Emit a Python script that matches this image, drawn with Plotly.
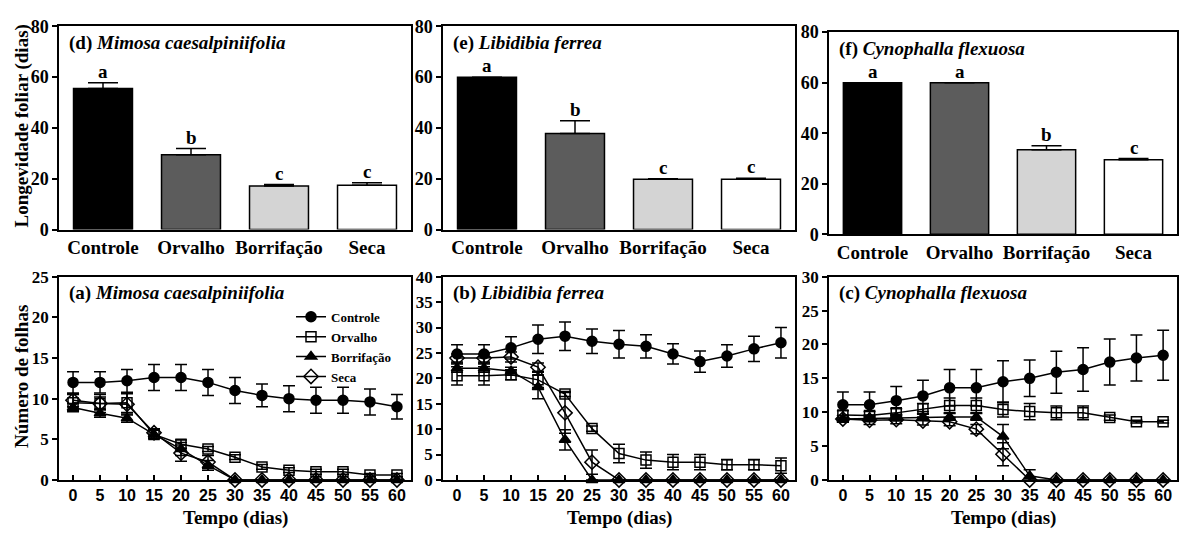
import plotly.graph_objects as go

# ---------------- data ----------------
treatments = ["Controle", "Orvalho", "Borrifação", "Seca"]
bar_colors = ["#000000", "#5c5c5c", "#d4d4d4", "#ffffff"]

mimosa_long = [55.5, 29.5, 17.1, 17.4]
mimosa_long_err = [2.3, 2.4, 0.6, 1.0]
mimosa_letters = ["a", "b", "c", "c"]

libidibia_long = [60.0, 37.8, 19.8, 19.8]
libidibia_long_err = [0.0, 5.0, 0.2, 0.4]
libidibia_letters = ["a", "b", "c", "c"]

cyno_long = [60.0, 60.0, 33.5, 29.5]
cyno_long_err = [0.0, 0.0, 1.6, 0.5]
cyno_letters = ["a", "a", "b", "c"]

days = [0, 5, 10, 15, 20, 25, 30, 35, 40, 45, 50, 55, 60]

mimosa_controle = [12.0, 12.0, 12.2, 12.6, 12.6, 12.0, 11.0, 10.4, 10.0, 9.8, 9.8, 9.6, 9.0]
mimosa_controle_err = [1.3, 1.3, 1.4, 1.6, 1.6, 1.6, 1.6, 1.4, 1.6, 1.6, 1.6, 1.6, 1.5]
mimosa_orvalho = [9.5, 9.4, 9.5, 5.6, 4.4, 3.8, 2.8, 1.6, 1.2, 1.0, 1.0, 0.6, 0.6]
mimosa_orvalho_err = [1.0, 1.1, 1.2, 0.5, 0.5, 0.3, 0.3, 0.3, 0.3, 0.3, 0.3, 0.2, 0.2]
mimosa_borrif = [8.9, 8.2, 7.6, 5.6, 3.8, 1.8, 0, 0, 0, 0, 0, 0, 0]
mimosa_borrif_err = [0.5, 0.5, 0.5, 0.5, 0.8, 0.6, 0, 0, 0, 0, 0, 0, 0]
mimosa_seca = [9.8, 9.4, 9.3, 5.8, 3.3, 2.2, 0, 0, 0, 0, 0, 0, 0]
mimosa_seca_err = [0.8, 0.8, 1.3, 0.5, 1.0, 0.8, 0, 0, 0, 0, 0, 0, 0]

libidibia_controle = [24.8, 24.8, 26.0, 27.7, 28.3, 27.3, 26.7, 26.3, 24.8, 23.3, 24.4, 25.8, 27.0]
libidibia_controle_err = [1.8, 1.8, 2.2, 2.8, 2.8, 2.4, 2.7, 2.3, 2.0, 2.1, 2.2, 2.5, 3.0]
libidibia_orvalho = [20.5, 20.5, 20.7, 19.7, 16.9, 10.1, 5.2, 3.9, 3.5, 3.5, 3.0, 3.0, 2.8]
libidibia_orvalho_err = [1.8, 1.8, 1.0, 1.5, 0.5, 0.5, 1.8, 1.6, 1.5, 1.5, 1.0, 1.0, 1.5]
libidibia_borrif = [22.0, 22.0, 21.4, 18.3, 7.9, 0, 0, 0, 0, 0, 0, 0, 0]
libidibia_borrif_err = [0.8, 0.8, 0.8, 2.3, 2.0, 0, 0, 0, 0, 0, 0, 0, 0]
libidibia_seca = [24.0, 24.0, 24.2, 22.2, 13.2, 3.5, 0, 0, 0, 0, 0, 0, 0]
libidibia_seca_err = [0.8, 0.8, 1.0, 0.8, 4.0, 2.4, 0, 0, 0, 0, 0, 0, 0]

cyno_controle = [11.1, 11.1, 11.7, 12.4, 13.6, 13.6, 14.5, 15.0, 15.9, 16.3, 17.4, 18.0, 18.4]
cyno_controle_err = [1.9, 1.9, 2.1, 2.3, 2.7, 2.7, 3.1, 2.7, 3.1, 3.2, 3.4, 3.4, 3.7]
cyno_orvalho = [9.6, 9.5, 9.9, 10.5, 11.0, 11.0, 10.4, 10.1, 9.9, 9.9, 9.2, 8.6, 8.6]
cyno_orvalho_err = [0.6, 0.6, 0.6, 0.8, 1.1, 1.1, 1.1, 1.2, 1.0, 1.0, 0.4, 0.2, 0.2]
cyno_borrif = [9.0, 9.1, 9.2, 9.3, 9.3, 9.3, 6.4, 0.6, 0, 0, 0, 0, 0]
cyno_borrif_err = [0.5, 0.5, 0.5, 0.5, 0.5, 0.5, 1.8, 0.9, 0, 0, 0, 0, 0]
cyno_seca = [9.0, 8.8, 8.9, 8.7, 8.6, 7.5, 3.8, 0, 0, 0, 0, 0, 0]
cyno_seca_err = [0.5, 0.6, 0.6, 0.6, 0.6, 0.7, 1.7, 0, 0, 0, 0, 0, 0]

# ---------------- layout helpers ----------------
W, H = 1181, 540
SERIF = "Liberation Serif"
SANS = "Liberation Sans"


def px_x(v):
    return v / W


def px_y(v):
    return 1 - v / H


def bfont(family, size):
    return dict(family=family, size=size, color="black", weight="bold")


# panel pixel boxes: (left, right, top, bottom)
boxes = {
    "d": (59, 411, 17, 228),
    "e": (443, 795, 17, 228),
    "f": (829, 1177, 23, 233),
    "a": (59, 411, 277, 488),
    "b": (443, 795, 277, 488),
    "c": (829, 1177, 277, 488),
}
axis_ids = {"d": 1, "e": 2, "f": 3, "a": 4, "b": 5, "c": 6}

fig = go.Figure()
layout = {}
annotations = []


def axname(i, kind):
    return kind + ("" if i == 1 else str(i))


def traceref(i, kind):
    return kind + ("" if i == 1 else str(i))


# ---------------- bar panels ----------------
bar_panels = [
    ("d", "Mimosa caesalpiniifolia", mimosa_long, mimosa_long_err, mimosa_letters),
    ("e", "Libidibia ferrea", libidibia_long, libidibia_long_err, libidibia_letters),
    ("f", "Cynophalla flexuosa", cyno_long, cyno_long_err, cyno_letters),
]

for key, species, vals, errs, letters in bar_panels:
    i = axis_ids[key]
    l, r, t, b = boxes[key]
    xa, ya = traceref(i, "x"), traceref(i, "y")
    fig.add_trace(go.Bar(
        x=treatments, y=vals, xaxis=xa, yaxis=ya, width=0.67,
        marker=dict(color=bar_colors, line=dict(color="black", width=1.5)),
        error_y=dict(type="data", array=errs, arrayminus=[0] * len(errs), symmetric=False,
                     color="black", thickness=1.5, width=15,
                     visible=True),
        showlegend=False, cliponaxis=False,
    ))
    layout[axname(i, "xaxis")] = dict(
        domain=[px_x(l), px_x(r)], anchor=ya, type="category",
        range=[-0.5, 3.5], showline=True, linecolor="black", linewidth=1.5,
        mirror=True, ticks="", showgrid=False, zeroline=False,
        tickfont=bfont(SERIF, 19),
    )
    layout[axname(i, "yaxis")] = dict(
        domain=[px_y(b), px_y(t)], anchor=xa, range=[0, 80], dtick=20,
        showline=True, linecolor="black", linewidth=1.5, mirror=True,
        ticks="outside", ticklen=5, tickwidth=1.5, tickcolor="black",
        showgrid=False, zeroline=False,
        tickfont=bfont(SERIF, 18),
    )
    for cat, v, e, let in zip(treatments, vals, errs, letters):
        annotations.append(dict(
            x=cat, y=v + e, xref=xa, yref=ya, text="<b>%s</b>" % let,
            showarrow=False, yanchor="bottom", yshift=-1,
            font=bfont(SERIF, 19),
        ))
    annotations.append(dict(
        x=px_x(l + 8), y=px_y(t + 17), xref="paper", yref="paper",
        text="<b>(%s) <i>%s</i></b>" % (key, species), showarrow=False,
        xanchor="left", yanchor="middle",
        font=bfont(SERIF, 19),
    ))

# ---------------- line panels ----------------
series_style = [
    ("Controle", dict(symbol="circle", color="black", size=10, line=dict(color="black", width=1.5))),
    ("Orvalho", dict(symbol="square-open", color="black", size=10, line=dict(color="black", width=1.5))),
    ("Borrifação", dict(symbol="triangle-up", color="black", size=10, line=dict(color="black", width=1.5))),
    ("Seca", dict(symbol="diamond-open", color="black", size=11, line=dict(color="black", width=1.5))),
]

line_panels = [
    ("a", "Mimosa caesalpiniifolia", 25,
     [(mimosa_controle, mimosa_controle_err), (mimosa_orvalho, mimosa_orvalho_err),
      (mimosa_borrif, mimosa_borrif_err), (mimosa_seca, mimosa_seca_err)]),
    ("b", "Libidibia ferrea", 40,
     [(libidibia_controle, libidibia_controle_err), (libidibia_orvalho, libidibia_orvalho_err),
      (libidibia_borrif, libidibia_borrif_err), (libidibia_seca, libidibia_seca_err)]),
    ("c", "Cynophalla flexuosa", 30,
     [(cyno_controle, cyno_controle_err), (cyno_orvalho, cyno_orvalho_err),
      (cyno_borrif, cyno_borrif_err), (cyno_seca, cyno_seca_err)]),
]

for key, species, ymax, series in line_panels:
    i = axis_ids[key]
    l, r, t, b = boxes[key]
    xa, ya = traceref(i, "x"), traceref(i, "y")
    # draw in reverse so Controle is on top
    for (name, mk), (vals, errs) in reversed(list(zip(series_style, series))):
        fig.add_trace(go.Scatter(
            x=days, y=vals, xaxis=xa, yaxis=ya, name=name, mode="lines+markers",
            line=dict(color="black", width=1.5), marker=mk,
            error_y=dict(type="data", array=errs, color="black", thickness=1.5, width=6),
            showlegend=(key == "a"),
            legendrank={"Controle": 1, "Orvalho": 2, "Borrifação": 3, "Seca": 4}[name],
            cliponaxis=False,
        ))
    layout[axname(i, "xaxis")] = dict(
        domain=[px_x(l), px_x(r)], anchor=ya, range=[-2.6, 62.6],
        tickmode="array", tickvals=days, ticktext=[str(d) for d in days],
        showline=True, linecolor="black", linewidth=1.5, mirror=True,
        ticks="inside", ticklen=5, tickwidth=1.5, tickcolor="black",
        showgrid=False, zeroline=False,
        tickfont=bfont(SANS, 16),
    )
    layout[axname(i, "yaxis")] = dict(
        domain=[px_y(b), px_y(t)], anchor=xa, range=[0, ymax], dtick=5,
        showline=True, linecolor="black", linewidth=1.5, mirror=True,
        ticks="outside", ticklen=5, tickwidth=1.5, tickcolor="black",
        showgrid=False, zeroline=False,
        tickfont=bfont(SERIF, 17),
    )
    annotations.append(dict(
        x=px_x(l + 8), y=px_y(t + 17), xref="paper", yref="paper",
        text="<b>(%s) <i>%s</i></b>" % (key, species), showarrow=False,
        xanchor="left", yanchor="middle",
        font=bfont(SERIF, 19),
    ))
    annotations.append(dict(
        x=px_x((l + r) / 2), y=px_y(528), xref="paper", yref="paper",
        text="<b>Tempo (dias)</b>", showarrow=False, xanchor="center", yanchor="middle",
        font=bfont(SERIF, 19),
    ))

annotations.append(dict(
    x=px_x(22), y=px_y(121), xref="paper", yref="paper", textangle=-90,
    text="<b>Longevidade foliar (dias)</b>", showarrow=False,
    xanchor="center", yanchor="middle",
    font=bfont(SERIF, 19),
))
annotations.append(dict(
    x=px_x(22), y=px_y(381), xref="paper", yref="paper", textangle=-90,
    text="<b>Número de folhas</b>", showarrow=False,
    xanchor="center", yanchor="middle",
    font=bfont(SERIF, 19),
))

fig.update_layout(
    width=W, height=H, margin=dict(l=0, r=0, t=0, b=0),
    paper_bgcolor="white", plot_bgcolor="white",
    showlegend=True,
    legend=dict(x=px_x(291), y=px_y(303), xanchor="left", yanchor="top",
                bgcolor="rgba(0,0,0,0)", borderwidth=0, tracegroupgap=0,
                itemwidth=30,
                font=bfont(SERIF, 13)),
    annotations=annotations,
    bargap=0.33,
    **layout,
)

fig.write_html("out.html")
